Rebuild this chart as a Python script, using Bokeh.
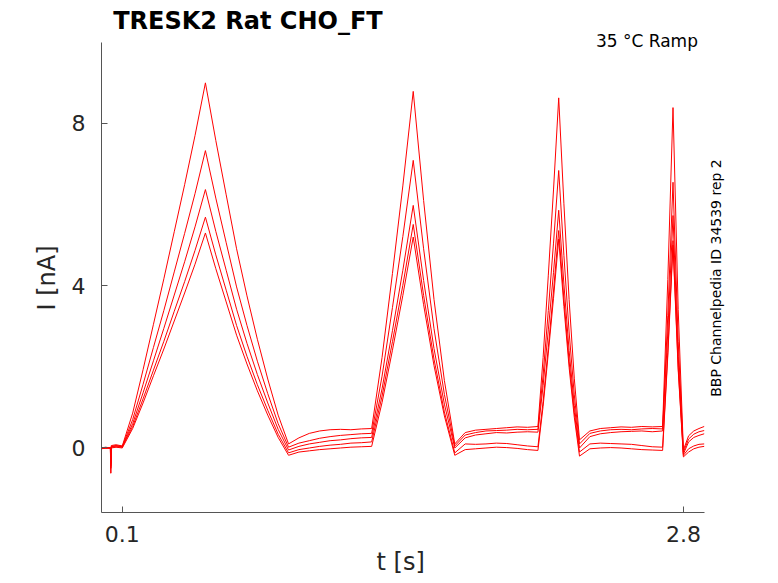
import math
from bokeh.plotting import figure
from bokeh.models import Range1d, FixedTicker, Label, Title
from bokeh.embed import file_html
from bokeh.resources import INLINE

# time axis (s)
t = [0.0, 0.02, 0.043, 0.044, 0.046, 0.047, 0.07, 0.1,
     0.15, 0.2, 0.25, 0.3, 0.35, 0.4, 0.45, 0.5,
     0.55, 0.6, 0.65, 0.7, 0.75, 0.8, 0.85, 0.9,
     0.95, 1.0, 1.05, 1.1, 1.15, 1.2, 1.25, 1.3,
     1.35, 1.4, 1.45, 1.5,
     1.55, 1.6, 1.65, 1.7,
     1.75, 1.8, 1.85, 1.9, 1.95, 2.0, 2.05, 2.1,
     2.125, 2.15, 2.175, 2.2,
     2.225, 2.25, 2.275, 2.3,
     2.35, 2.4, 2.45, 2.5, 2.55, 2.6, 2.65, 2.7,
     2.725, 2.75,
     2.775, 2.8,
     2.825, 2.85, 2.875, 2.9]

# current traces (nA)
trace1 = [0.0, 0.01, 0.0, -0.62, -0.62, 0.06, 0.08, 0.05,
          0.86, 1.93, 3.05, 4.17, 5.33, 6.49, 7.70, 9.0,
          7.58, 6.24, 4.91, 3.75, 2.68, 1.70, 0.81, 0.1,
          0.25, 0.36, 0.42, 0.45, 0.46, 0.45, 0.47, 0.48,
          2.23, 4.30, 6.46, 8.79,
          6.10, 3.66, 1.66, 0.1,
          0.38, 0.44, 0.46, 0.48, 0.5, 0.52, 0.51, 0.53,
          2.23, 4.26, 6.36, 8.63,
          6.02, 3.66, 1.72, 0.2,
          0.42, 0.48, 0.5, 0.52, 0.51, 0.53, 0.52, 0.53,
          4.15, 8.39,
          3.41, -0.05,
          0.3, 0.42, 0.48, 0.53]
trace2 = [-0.01, 0.0, 0.01, -0.5, -0.5, 0.04, 0.06, 0.04,
          0.70, 1.57, 2.48, 3.39, 4.34, 5.29, 6.27, 7.33,
          6.16, 5.06, 3.97, 3.02, 2.14, 1.34, 0.60, 0.02,
          0.12, 0.18, 0.24, 0.28, 0.31, 0.33, 0.35, 0.36,
          1.77, 3.46, 5.21, 7.09,
          4.91, 2.94, 1.32, 0.05,
          0.32, 0.38, 0.42, 0.43, 0.44, 0.46, 0.45, 0.46,
          1.80, 3.39, 5.05, 6.84,
          4.75, 2.86, 1.31, 0.1,
          0.36, 0.42, 0.45, 0.46, 0.45, 0.47, 0.48, 0.47,
          3.27, 6.55,
          2.63, -0.1,
          0.22, 0.34, 0.4, 0.43]
trace3 = [0.0, 0.02, 0.0, -0.45, -0.45, 0.03, 0.05, 0.03,
          0.60, 1.36, 2.15, 2.95, 3.77, 4.59, 5.45, 6.37,
          5.34, 4.38, 3.42, 2.58, 1.81, 1.11, 0.46, -0.05,
          0.04, 0.1, 0.14, 0.18, 0.2, 0.23, 0.25, 0.26,
          1.46, 2.89, 4.38, 5.98,
          4.13, 2.45, 1.08, 0.0,
          0.25, 0.32, 0.35, 0.38, 0.37, 0.39, 0.40, 0.39,
          1.54, 2.91, 4.33, 5.86,
          4.04, 2.40, 1.05, 0.0,
          0.28, 0.35, 0.38, 0.4, 0.41, 0.42, 0.4, 0.42,
          2.86, 5.73,
          2.26, -0.15,
          0.15, 0.26, 0.31, 0.35]
trace4 = [0.01, -0.01, 0.0, -0.4, -0.4, 0.02, 0.03, 0.02,
          0.53, 1.21, 1.92, 2.63, 3.37, 4.10, 4.87, 5.69,
          4.76, 3.89, 3.02, 2.26, 1.56, 0.93, 0.34, -0.12,
          -0.04, 0.0, 0.04, 0.07, 0.09, 0.12, 0.13, 0.15,
          1.28, 2.62, 4.01, 5.51,
          3.76, 2.19, 0.89, -0.12,
          0.1, 0.09, 0.1, 0.12, 0.11, 0.08, 0.05, 0.03,
          1.15, 2.48, 3.87, 5.36,
          3.67, 2.14, 0.88, -0.1,
          0.1, 0.12, 0.11, 0.1, 0.09, 0.06, 0.03, 0.02,
          2.36, 5.11,
          1.99, -0.18,
          -0.02, 0.05, 0.09, 0.1]
trace5 = [-0.02, 0.0, -0.01, -0.35, -0.35, 0.0, 0.02, 0.0,
          0.48, 1.11, 1.78, 2.44, 3.13, 3.82, 4.53, 5.30,
          4.42, 3.60, 2.78, 2.07, 1.41, 0.81, 0.26, -0.18,
          -0.1, -0.07, -0.04, -0.02, 0.0, 0.02, 0.03, 0.04,
          1.12, 2.41, 3.76, 5.20,
          3.53, 2.03, 0.79, -0.18,
          -0.04, -0.02, 0.0, 0.02, 0.01, -0.01, -0.04, -0.06,
          1.03, 2.34, 3.69, 5.15,
          3.49, 1.99, 0.76, -0.2,
          -0.02, 0.0, 0.01, 0.0, -0.02, -0.04, -0.05, -0.06,
          2.27, 5.0,
          1.92, -0.22,
          -0.1, -0.02, 0.02, 0.04]
traces = [trace1, trace2, trace3, trace4, trace5]

x_ticks = [0.1, 2.8]
y_ticks = [0, 4, 8]

title_text = "TRESK2  Rat  CHO_FT"
cond_text = "35 °C  Ramp"
side_text = "BBP Channelpedia ID 34539 rep 2"
x_label = "t [s]"
y_label = "I [nA]"

FONT = "DejaVu Sans"
TXT = "#262626"

W, H = 776, 581
# frame spans from the canvas top to the right edge; the axes are bounded
p = figure(width=W, height=H, output_backend="svg", toolbar_location=None,
           x_range=Range1d(0, 3.248), y_range=Range1d(-1.59, 11.03),
           min_border_left=101, min_border_right=0,
           min_border_top=0, min_border_bottom=H - 512)
p.outline_line_color = None
p.xgrid.visible = False
p.ygrid.visible = False
p.background_fill_color = "white"
p.border_fill_color = "white"

for tr in traces:
    p.line(t, tr, line_color="#ff0000", line_width=1)

for ax in (p.xaxis[0], p.yaxis[0]):
    ax.axis_line_color = "#555555"
    ax.axis_line_width = 1
    ax.major_tick_line_color = "#555555"
    ax.major_tick_in = 6
    ax.major_tick_out = 0
    ax.minor_tick_line_color = None
    ax.major_label_text_font = FONT
    ax.major_label_text_font_size = "22px"
    ax.major_label_text_color = TXT

p.xaxis[0].ticker = FixedTicker(ticks=x_ticks)
p.xaxis[0].major_label_overrides = {v: str(v) for v in x_ticks}
p.xaxis[0].major_label_standoff = 13
p.xaxis[0].bounds = (0, 2.9)

p.yaxis[0].ticker = FixedTicker(ticks=y_ticks)
p.yaxis[0].major_label_standoff = 16
p.yaxis[0].bounds = (-1.59, 10.0)

# axis titles
ylab = Title(text=y_label, align="left", offset=202, vertical_align="bottom",
             standoff=15, text_font=FONT, text_font_size="24px",
             text_font_style="normal", text_color=TXT)
p.add_layout(ylab, "left")
xlab = Title(text=x_label, align="left", offset=275, vertical_align="top",
             standoff=7, text_font=FONT, text_font_size="24px",
             text_font_style="normal", text_color=TXT)
p.add_layout(xlab, "below")

p.add_layout(Label(x=0.056, y=10.537, text=title_text, text_align="left",
                   text_baseline="alphabetic", text_font=FONT,
                   text_font_size="24px", text_font_style="bold",
                   text_color="#000000"))
p.add_layout(Label(x=2.896, y=10.044, text=cond_text, text_align="right",
                   text_baseline="alphabetic", text_font=FONT,
                   text_font_size="17px", text_color="#000000"))
p.add_layout(Label(x=2.958, y=4.19, text=side_text, text_align="center",
                   text_baseline="middle", angle=math.pi / 2, text_font=FONT,
                   text_font_size="14px", text_color="#000000"))

open("out.html", "w").write(file_html(p, INLINE))
